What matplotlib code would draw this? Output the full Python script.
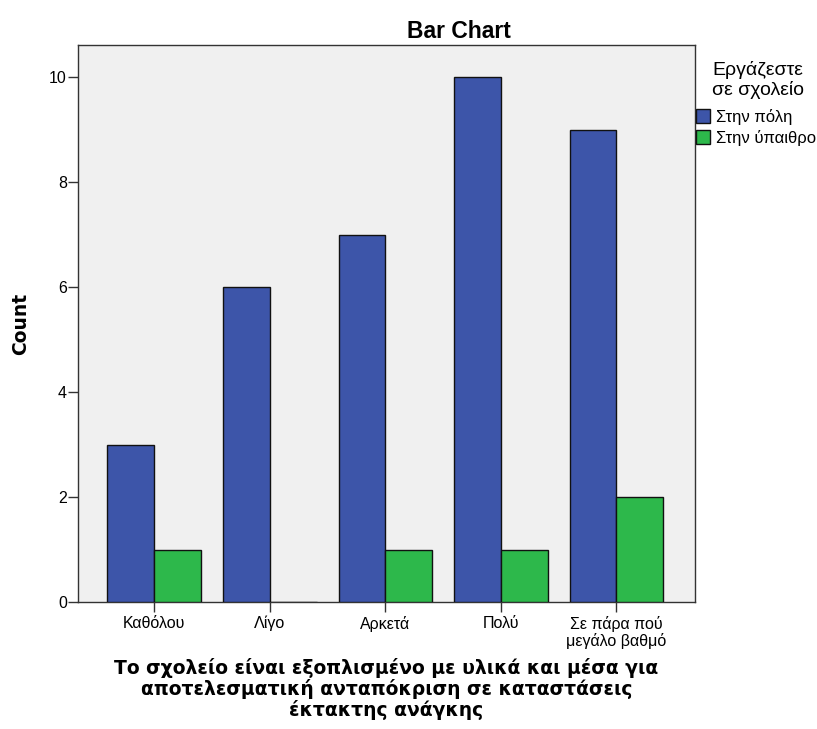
import matplotlib
matplotlib.use("Agg")
import matplotlib.pyplot as plt
import numpy as np
from matplotlib.patches import Patch

categories = ["Καθόλου", "Λίγο", "Αρκετά", "Πολύ", "Σε πάρα πού\nμεγάλο βαθμό"]
city = [3, 6, 7, 10, 9]
rural = [1, 0, 1, 1, 2]
series_names = ["Στην πόλη", "Στην ύπαιθρο"]
legend_title = "Εργάζεστε\nσε σχολείο"
yticks = [0, 2, 4, 6, 8, 10]
x_title = ("Το σχολείο είναι εξοπλισμένο με υλικά και μέσα για\n"
           "αποτελεσματική ανταπόκριση σε καταστάσεις\n"
           "έκτακτης ανάγκης")

plt.rcParams["font.family"] = ["Liberation Sans", "DejaVu Sans"]

fig = plt.figure(figsize=(8.17, 7.29), dpi=100)
ax = fig.add_axes([78 / 817, 1 - 602 / 729, (695 - 78) / 817, (602 - 45) / 729])
ax.set_facecolor("#F0F0F0")

blue = "#3D55A9"
green = "#2DB84B"
x = np.arange(len(categories))
w = 0.405
ax.bar(x - w / 2, city, width=w, color=blue, edgecolor="#111111", linewidth=1.0, zorder=3)
ax.bar(x + w / 2, rural, width=w, color=green, edgecolor="#111111", linewidth=1.0, zorder=3)

ax.set_xlim(-0.66, 4.68)
ax.set_ylim(0, 10.61)
ax.set_xticks(x)
ax.set_xticklabels(categories, fontsize=11.5, linespacing=1.05)
ax.set_yticks(yticks)
ax.set_yticklabels([str(v) for v in yticks], fontsize=11.5)
ax.tick_params(axis="x", length=7, width=1, color="#333333", pad=3)
ax.tick_params(axis="y", length=7, width=1, color="#333333", pad=1)
for s in ax.spines.values():
    s.set_color("#333333")
    s.set_linewidth(1.0)

ax.set_ylabel("Count", fontsize=13.5, fontweight="bold", family="DejaVu Sans", labelpad=14)
ax.set_xlabel(x_title, fontsize=13.5, fontweight="bold", family="DejaVu Sans",
              linespacing=1.05, labelpad=7)

fig.text(459 / 817, 1 - 31 / 729, "Bar Chart", fontsize=16.5, fontweight="bold",
         ha="center", va="center")

# legend title drawn separately for finer control of spacing
fig.text(758 / 817, 1 - 80 / 729, legend_title, fontsize=14, ha="center", va="center",
         multialignment="center", linespacing=1.1)

handles = [Patch(facecolor=blue, edgecolor="#111111", linewidth=1.0),
           Patch(facecolor=green, edgecolor="#111111", linewidth=1.0)]
leg = fig.legend(handles, series_names,
                 loc="upper left", bbox_to_anchor=(694 / 817, 1 - 107 / 729),
                 frameon=False, fontsize=12,
                 handlelength=0.85, handleheight=0.85, handletextpad=0.4,
                 labelspacing=0.3, borderaxespad=0, borderpad=0.1)

fig.savefig("out.png", dpi=100)
